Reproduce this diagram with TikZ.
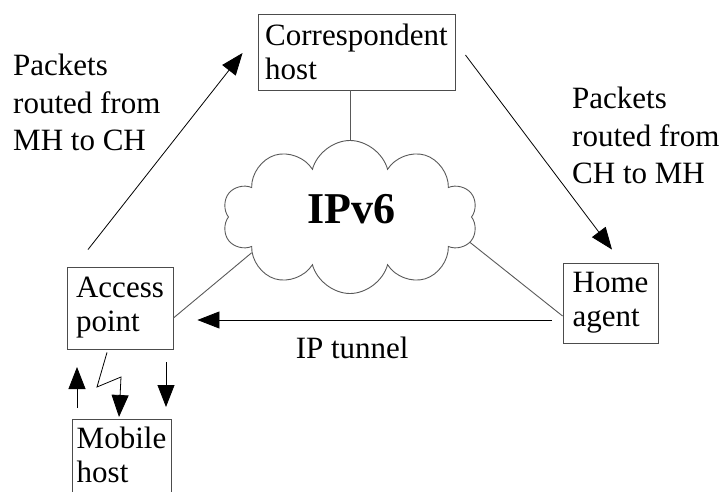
\documentclass[tikz,border=0pt]{standalone}
\usepackage{fontspec}
\setmainfont{Liberation Serif}
\usetikzlibrary{arrows.meta,shapes.symbols,calc}

\begin{document}
\begin{tikzpicture}[x=1pt, y=-1pt,
    box/.style={draw=black!70, line width=0.9pt, align=left, inner sep=2pt, font=\fontsize{31}{34}\selectfont},
    note/.style={align=left, inner sep=0pt, anchor=north west, font=\fontsize{31}{37.5}\selectfont},
    link/.style={draw=black!65, line width=0.9pt},
    arr/.style={-{Triangle[length=22pt, width=17pt]}, line width=0.8pt}
]
\useasboundingbox (0,0) rectangle (726,492);

\node[box, minimum width=197pt, minimum height=76pt] (ch) at (356.5,52) {Correspondent\\host};
\node[box, minimum width=106pt, minimum height=82pt] (ap) at (120,308) {Access\\point};
\node[box, minimum width=95pt, minimum height=80pt] (ha) at (610.5,303) {Home\\agent};
% box runs off the bottom edge
\node[box, minimum width=99pt, inner ysep=7.5pt, text depth=40pt, anchor=north] (mh) at (121.5,419) {Mobile\\host};

\node[cloud, cloud puffs=10, cloud puff arc=150, cloud ignores aspect, draw=black!65, line width=0.9pt,
      minimum width=255pt, minimum height=153pt] (cloud) at (350,217) {};
\node[font=\fontsize{44}{50}\selectfont\bfseries] (ipv6) at (351,209) {IPv6};

\node[note] (mhch) at (13,54) {Packets\\routed from\\MH to CH};
\node[note] (chmh) at (572,87) {Packets\\routed from\\CH to MH};

% links to the cloud
\draw[link] (cloud.north) -- (cloud.north |- ch.south);
\draw[link] (cloud.200) -- ([yshift=-10]ap.east);
\draw[link] (cloud.348) -- ([yshift=-13]ha.west);

% packet routes
\draw[arr] ([shift={(-32,-17)}]ap.north) -- ([shift={(-15,1)}]ch.west);
\draw[arr] ([shift={(10,3)}]ch.east) -- ([shift={(1.5,-13)}]ha.north);
\draw[arr] ([shift={(-11,17)}]ha.west) -- node[pos=0.563, anchor=base, yshift=-38pt, font=\fontsize{31}{35}\selectfont] {IP tunnel} ([shift={(24,12)}]ap.east);

% radio link
\draw[arr] ([shift={(-13,3)}]ap.south) -- (97,387) -- (121,377) -- ([shift={(-2.5,-2)}]mh.north);
\coordinate (upfoot) at (77,408);
\coordinate (uptip) at (77,367);
\coordinate (downfoot) at (166,362);
\coordinate (downtip) at (166,407);
\draw[arr] (upfoot) -- (uptip);
\draw[arr] (downfoot) -- (downtip);
\end{tikzpicture}
\end{document}
